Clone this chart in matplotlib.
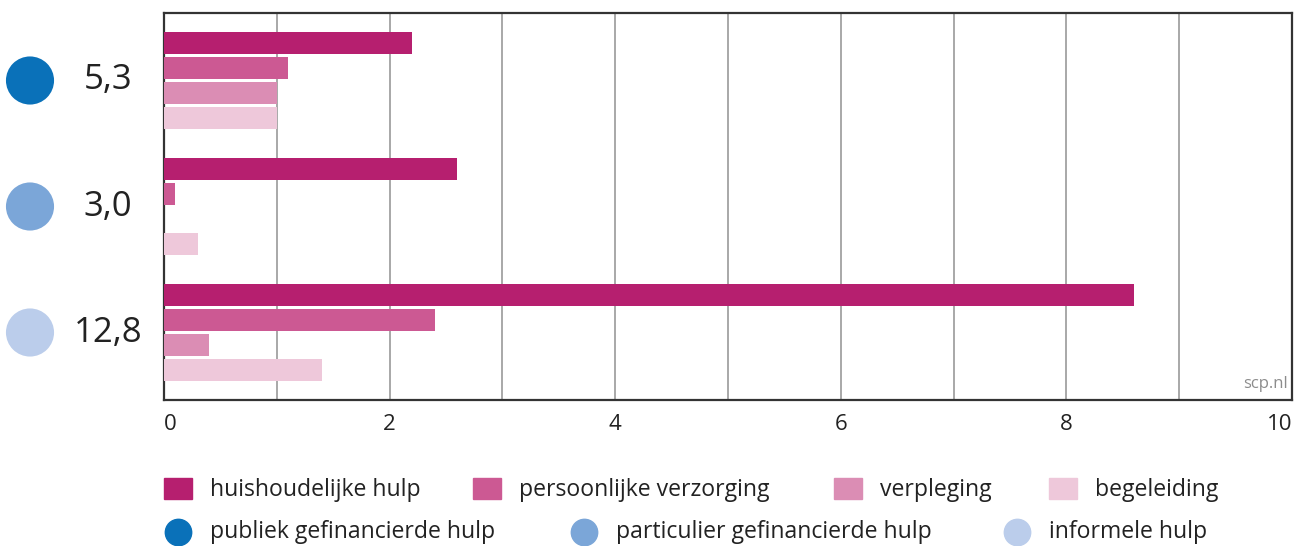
import numpy as np
import matplotlib
matplotlib.use('Agg')
import matplotlib.pyplot as plt
from matplotlib.patches import Rectangle
from matplotlib.lines import Line2D
from matplotlib.transforms import blended_transform_factory

plt.rcParams['font.family'] = ['Open Sans', 'DejaVu Sans']

# Data
groups = ['publiek gefinancierde hulp', 'particulier gefinancierde hulp', 'informele hulp']
group_totals = [5.3, 3.0, 12.8]
group_colors = ['#0A71B9', '#7BA6D8', '#BBCDEB']

series = ['huishoudelijke hulp', 'persoonlijke verzorging', 'verpleging', 'begeleiding']
series_colors = ['#B61F6F', '#CC5993', '#DB8DB4', '#EEC8DA']
values = {
    'huishoudelijke hulp':     [2.2, 2.6, 8.6],
    'persoonlijke verzorging': [1.1, 0.1, 2.4],
    'verpleging':              [1.0, 0.0, 0.4],
    'begeleiding':             [1.0, 0.3, 1.4],
}
xticks = [0, 2, 4, 6, 8, 10]

W, H = 1294, 546
fig = plt.figure(figsize=(W / 100, H / 100), dpi=100)
ax = fig.add_axes([164 / W, (H - 400) / H, 1128 / W, 387 / H])

group_step = 5.04
bar_h = 0.88
for i, name in enumerate(series):
    pos = [g * group_step + i for g in range(len(groups))]
    ax.barh(pos, values[name], height=bar_h, color=series_colors[i], zorder=3)

last = (len(groups) - 1) * group_step + len(series) - 1
ax.set_ylim(last + 1.2, -1.2)
ax.set_xlim(0, 10)

# grid
for x in range(1, 10):
    ax.axvline(x, color='#A8A8A8', lw=1.4, zorder=1)

for sp in ax.spines.values():
    sp.set_color('#333333')
    sp.set_linewidth(1.6)
ax.set_yticks([])
ax.set_xticks(xticks)
ax.tick_params(axis='x', length=0, pad=10, labelsize=16, labelcolor='#222222')
labels = ax.get_xticklabels()
labels[0].set_horizontalalignment('left')
labels[-1].set_horizontalalignment('right')

ax.text(0.996, 0.02, 'scp.nl', transform=ax.transAxes, ha='right', va='bottom',
        fontsize=12, color='#8C8C8C')

# circles and totals on the left
tr = blended_transform_factory(fig.transFigure, ax.transData)
for g, tot in enumerate(group_totals):
    yc = g * group_step + 1.5
    ax.scatter([30 / W], [yc], s=1200, color=group_colors[g], transform=tr,
               clip_on=False, edgecolors='none')
    ax.text(108 / W, yc, f'{tot:.1f}'.replace('.', ','), transform=tr,
            ha='center', va='center', fontsize=25, color='#222222')

# legend
row1_y = 1 - 490 / H
sq_x = [164, 473, 834, 1049]
for i, name in enumerate(series):
    fig.add_artist(Rectangle((sq_x[i] / W, (H - 499) / H), 28 / W, 21 / H,
                             transform=fig.transFigure, color=series_colors[i]))
    fig.text((sq_x[i] + 46) / W, row1_y, name, ha='left', va='center',
             fontsize=16.6, color='#222222')

row2_y = 1 - 532 / H
c_x = [178, 584, 1017]
for g, name in enumerate(groups):
    fig.add_artist(Line2D([c_x[g] / W], [row2_y], marker='o', markersize=19,
                          color=group_colors[g], transform=fig.transFigure, lw=0))
    fig.text((c_x[g] + 32) / W, row2_y, name, ha='left', va='center',
             fontsize=16.6, color='#222222')

fig.savefig('out.png', dpi=100)
